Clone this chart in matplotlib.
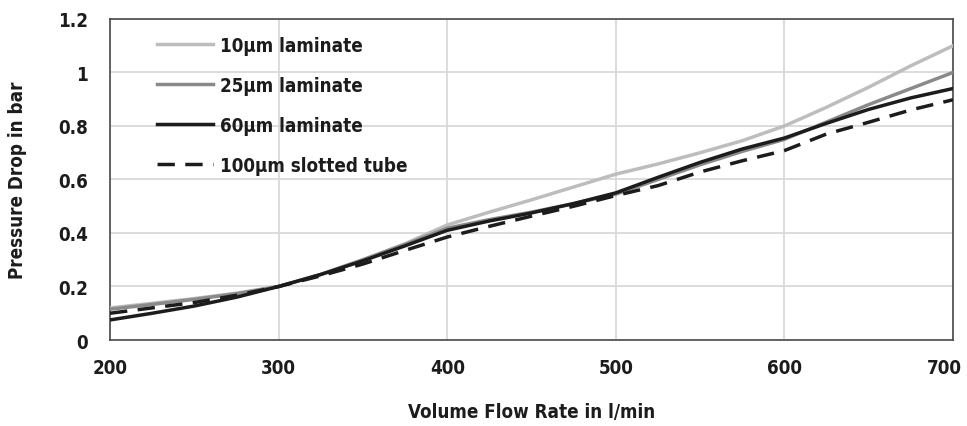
import matplotlib
matplotlib.use("Agg")
import matplotlib.pyplot as plt
from matplotlib import font_manager as fm
from matplotlib.transforms import ScaledTranslation

flow = [200, 225, 250, 275, 300, 325, 350, 375, 400, 425, 450, 475, 500,
        525, 550, 575, 600, 625, 650, 675, 700]
lam10 = [0.12, 0.137, 0.155, 0.175, 0.2, 0.245, 0.30, 0.36, 0.43, 0.478, 0.524, 0.572, 0.62,
         0.658, 0.70, 0.745, 0.80, 0.87, 0.945, 1.025, 1.10]
lam25 = [0.115, 0.133, 0.152, 0.173, 0.2, 0.245, 0.30, 0.357, 0.418, 0.45, 0.478, 0.51, 0.545,
         0.60, 0.655, 0.705, 0.75, 0.815, 0.88, 0.94, 1.0]
lam60 = [0.075, 0.10, 0.127, 0.16, 0.2, 0.245, 0.296, 0.352, 0.41, 0.445, 0.475, 0.51, 0.55,
         0.608, 0.664, 0.714, 0.755, 0.81, 0.862, 0.905, 0.94]
slot100 = [0.10, 0.12, 0.14, 0.167, 0.2, 0.24, 0.284, 0.335, 0.385, 0.425, 0.463, 0.50, 0.54,
           0.577, 0.628, 0.67, 0.708, 0.77, 0.814, 0.86, 0.898]

labels = ["10µm laminate", "25µm laminate", "60µm laminate", "100µm slotted tube"]
x_ticks = [200, 300, 400, 500, 600, 700]
y_ticks = [0, 0.2, 0.4, 0.6, 0.8, 1.0, 1.2]
y_tick_labels = ["0", "0.2", "0.4", "0.6", "0.8", "1", "1.2"]

# pick a condensed bold font if one is installed
cond = None
for f in fm.fontManager.ttflist:
    nm = f.name + " " + f.fname
    is_cond = ("Condensed" in nm or "Narrow" in nm or "condensed" in str(f.stretch))
    is_bold = (f.weight in ("bold", 700, "700") or "Bold" in f.fname) and "Extra" not in f.fname \
        and "Semi" not in f.fname and "Italic" not in f.fname
    if is_cond and is_bold and "Ultra" not in f.fname and "Extra" not in nm:
        cond = f.fname
        break

if cond:
    scale = 1.0
    def fp(size):
        return fm.FontProperties(fname=cond, size=size)
else:
    scale = 0.85
    def fp(size):
        return fm.FontProperties(family="Roboto", weight="bold", size=size)

fs = 13.5 * scale
fig = plt.figure(figsize=(9.67, 4.27), dpi=100)
ax = fig.add_axes([0.1138, 0.2014, 0.8717, 0.7518])

ax.plot(flow, lam10, color="#bdbdbd", lw=2.5, label=labels[0], zorder=3)
ax.plot(flow, lam25, color="#8a8a8a", lw=2.5, label=labels[1], zorder=4)
ax.plot(flow, lam60, color="#1c1c1c", lw=2.5, label=labels[2], zorder=5)
ax.plot(flow, slot100, color="#1c1c1c", lw=2.5, ls=(0, (5, 3)), label=labels[3], zorder=6)

ax.set_xlim(200, 700)
ax.set_ylim(0, 1.2)
ax.set_xticks(x_ticks)
ax.set_xticklabels([str(v) for v in x_ticks], fontproperties=fp(fs))
ax.set_yticks(y_ticks)
ax.set_yticklabels(y_tick_labels, fontproperties=fp(fs))
ax.grid(True, color="#d9d9d9", lw=1.3, zorder=0)
ax.set_axisbelow(True)
for s in ax.spines.values():
    s.set_color("#4a4a4a")
    s.set_linewidth(1.2)
ax.tick_params(length=0, colors="#1c1c1c")
ax.tick_params(axis="y", pad=16)
ax.tick_params(axis="x", pad=13)

# last x tick label sits slightly left of its tick, as in the original
last = ax.get_xticklabels()[-1]
last.set_transform(last.get_transform() + ScaledTranslation(-0.09, 0, fig.dpi_scale_trans))

ax.set_xlabel("Volume Flow Rate in l/min", fontproperties=fp(fs), color="#1c1c1c")
ax.xaxis.set_label_coords(0.5, -0.193)
ax.set_ylabel("Pressure Drop in bar", fontproperties=fp(fs), color="#1c1c1c")
ax.yaxis.set_label_coords(-0.099, 0.5)

leg = ax.legend(loc="upper left", bbox_to_anchor=(0.0557, 0.948), frameon=False, prop=fp(fs),
                handlelength=3.0, handletextpad=0.35, labelspacing=1.12, borderpad=0.0,
                borderaxespad=0.0)
for t in leg.get_texts():
    t.set_color("#1c1c1c")

fig.savefig("out.png", dpi=100)
